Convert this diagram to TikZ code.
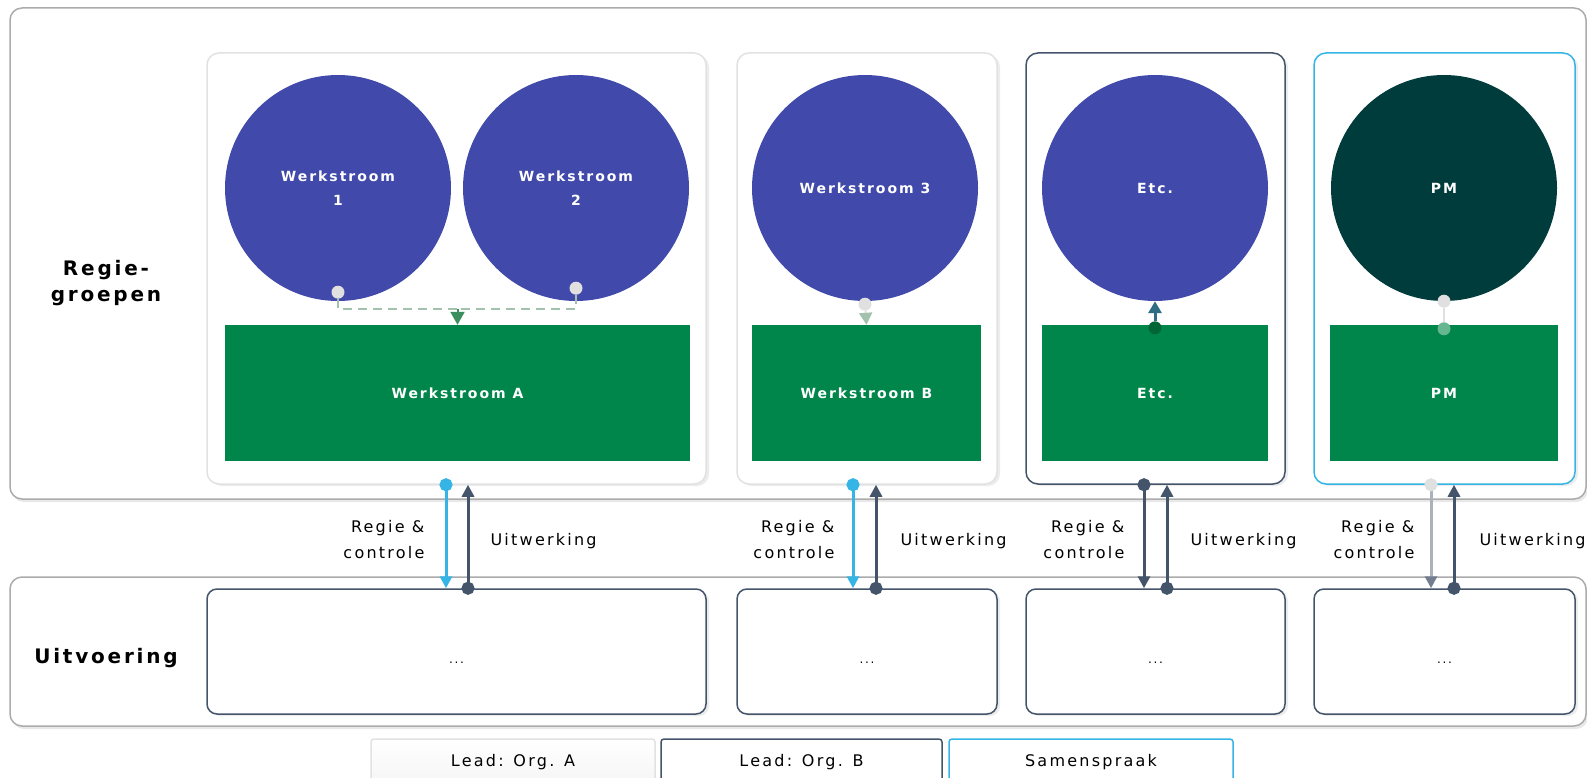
\documentclass[tikz,border=0pt]{standalone}
\usepackage{fontspec}
\setmainfont{DejaVu Sans}
\newfontfamily\tracked[LetterSpace=14]{DejaVu Sans}
\usetikzlibrary{arrows.meta,shadows}
\definecolor{wsblue}{HTML}{414AAA}
\definecolor{pmgreen}{HTML}{003C3C}
\definecolor{wsgreen}{HTML}{00864A}
\definecolor{navy}{HTML}{44546A}
\definecolor{skyblue}{HTML}{35B5E5}
\definecolor{dotgray}{HTML}{E0E0E0}
\definecolor{framegray}{HTML}{ABABAB}
\definecolor{lightframe}{HTML}{E2E2E2}
\definecolor{linkgreen}{HTML}{A3C2AE}
\definecolor{tipgreen}{HTML}{3D8E5E}
\definecolor{teal}{HTML}{2E6E84}

\begin{document}
\begin{tikzpicture}[x=1pt, y=-1pt,
    band/.style={rectangle, rounded corners=12pt, draw=framegray, line width=1.5pt, fill=white, drop shadow={shadow xshift=2pt, shadow yshift=-3pt, opacity=0.18}},
    column/.style={rectangle, rounded corners=12pt, line width=1.5pt, fill=white, minimum height=431pt, drop shadow={shadow xshift=3pt, shadow yshift=-2pt, opacity=0.15}},
    output/.style={rectangle, rounded corners=10pt, draw=navy, line width=1.5pt, fill=white, minimum height=125pt, drop shadow={shadow xshift=3pt, shadow yshift=-2pt, opacity=0.15}},
    dots/.style={yshift=-11pt, font=\tracked\fontsize{12}{14}\selectfont},
    stream/.style={circle, minimum size=226pt, inner sep=0pt, fill=wsblue, text=white, align=center, font=\tracked\bfseries\fontsize{14}{24}\selectfont},
    result/.style={rectangle, minimum height=136pt, fill=wsgreen, text=white, font=\tracked\bfseries\fontsize{14}{24}\selectfont},
    heading/.style={align=center, font=\tracked\bfseries\fontsize{20}{26}\selectfont},
    lbl/.style={align=right, font=\tracked\fontsize{16}{26}\selectfont},
    legend/.style={rectangle, rounded corners=3pt, line width=1.5pt, minimum height=46pt, fill=white, font=\tracked\fontsize{16}{20}\selectfont},
    dot/.style={circle, fill=dotgray, minimum size=13pt, inner sep=0pt},
    regie/.style={line width=3pt, draw=skyblue, arrows={Circle[length=13pt]-Triangle[length=12pt,width=12pt]}, shorten <=-6.5pt},
    uitw/.style={line width=3pt, draw=navy, arrows={Triangle[length=12pt,width=12pt]-Circle[length=13pt]}, shorten >=-6.5pt},
    wslink/.style={line width=2pt, draw=linkgreen, dash pattern=on 9pt off 6pt}
]
    \useasboundingbox (0,0) rectangle (1587,778);
    \clip (0,0) rectangle (1587,778);

    % bands
    \node[band, minimum width=1576pt, minimum height=491pt] (regieband) at (798,253.5) {};
    \node[band, minimum width=1576pt, minimum height=149pt] (uitvband) at (798,651.5) {};
    \node[heading] (regiehead) at (106,283) {Regie-\\groepen};
    \node[heading] (uitvhead) at (106,658) {Uitvoering};

    % regiegroepen
    \node[column, draw=lightframe, minimum width=499pt] (colA) at (456.5,268.5) {};
    \node[column, draw=lightframe, minimum width=260pt] (colB) at (867,268.5) {};
    \node[column, draw=navy, minimum width=259pt] (colC) at (1155.5,268.5) {};
    \node[column, draw=skyblue, minimum width=261pt] (colD) at (1444.5,268.5) {};

    \node[stream] (w1) at (338,188) {Werkstroom\\1};
    \node[stream] (w2) at (576,188) {Werkstroom\\2};
    \node[stream] (w3) at (865,188) {Werkstroom 3};
    \node[stream] (etc) at (1155,188) {Etc.};
    \node[stream, fill=pmgreen] (pm) at (1444,188) {PM};

    \node[result, minimum width=465pt] (rectA) at (457.5,393) {Werkstroom A};
    \node[result, minimum width=229pt] (rectB) at (866.5,393) {Werkstroom B};
    \node[result, minimum width=226pt] (rectC) at (1155,393) {Etc.};
    \node[result, minimum width=228pt] (rectD) at (1444,393) {PM};

    % links inside the columns
    \node[dot] (dW1) at ([yshift=9pt]w1.south) {};
    \node[dot] (dW2) at ([yshift=13pt]w2.south) {};
    \coordinate (mergeA) at ([yshift=16pt]rectA.north);
    \draw[wslink] (dW1) |- (mergeA);
    \draw[wslink] (dW2) |- (mergeA);
    \draw[line width=2pt, tipgreen, -{Triangle[length=13pt,width=14pt]}] (mergeA) -- (rectA.north);

    \node[dot] (dW3) at ([yshift=-3pt]w3.south) {};
    \draw[line width=2pt, dotgray, -{Triangle[length=12pt,width=13pt,color=linkgreen]}] (dW3) -- (rectB.north);

    \node[dot, fill=wsgreen!75!black] (dRC) at ([yshift=-3pt]rectC.north) {};
    \draw[line width=3pt, teal, -{Triangle[length=12pt,width=13pt]}] (dRC) -- (etc.south);

    \node[dot] (dPM) at (pm.south) {};
    \node[dot, fill=wsgreen!60!white] (dRD) at ([yshift=-4pt]rectD.north) {};
    \draw[line width=2pt, dotgray] (dPM) -- (dRD);

    % uitvoering
    \node[output, minimum width=499pt, label={[dots]center:...}] (botA) at (456.5,651.5) {};
    \node[output, minimum width=260pt, label={[dots]center:...}] (botB) at (867,651.5) {};
    \node[output, minimum width=259pt, label={[dots]center:...}] (botC) at (1155.5,651.5) {};
    \node[output, minimum width=261pt, label={[dots]center:...}] (botD) at (1444.5,651.5) {};

    % regie en uitwerking
    \draw[regie] ([xshift=-10.5pt]colA.south) -- ([xshift=-10.5pt]botA.north);
    \draw[uitw] ([xshift=11.5pt]colA.south) -- ([xshift=11.5pt]botA.north);
    \draw[regie] ([xshift=-14pt]colB.south) -- ([xshift=-14pt]botB.north);
    \draw[uitw] ([xshift=9pt]colB.south) -- ([xshift=9pt]botB.north);
    \draw[regie, draw=navy] ([xshift=-11.5pt]colC.south) -- ([xshift=-11.5pt]botC.north);
    \draw[uitw] ([xshift=11.5pt]colC.south) -- ([xshift=11.5pt]botC.north);
    \draw[regie, draw=navy!45, arrows={Circle[length=13pt,color=dotgray]-Triangle[length=12pt,width=12pt,color=navy!75]}] ([xshift=-13.5pt]colD.south) -- ([xshift=-13.5pt]botD.north);
    \draw[uitw] ([xshift=9.5pt]colD.south) -- ([xshift=9.5pt]botD.north);

    \node[lbl, anchor=east] (rgA) at (428,540) {Regie \&\\controle};
    \node[lbl, anchor=west] (uwA) at (487,541) {Uitwerking};
    \node[lbl, anchor=east] (rgB) at (838,540) {Regie \&\\controle};
    \node[lbl, anchor=west] (uwB) at (897,541) {Uitwerking};
    \node[lbl, anchor=east] (rgC) at (1128,540) {Regie \&\\controle};
    \node[lbl, anchor=west] (uwC) at (1187,541) {Uitwerking};
    \node[lbl, anchor=east] (rgD) at (1418,540) {Regie \&\\controle};
    \node[lbl, anchor=west] (uwD) at (1476,541) {Uitwerking};

    % legenda
    \node[legend, draw=lightframe, top color=white, bottom color=gray!8, minimum width=284pt] (legA) at (513,762) {Lead: Org. A};
    \node[legend, draw=navy, minimum width=281pt] (legB) at (801.5,762) {Lead: Org. B};
    \node[legend, draw=skyblue, minimum width=284pt] (legC) at (1091,762) {Samenspraak};
\end{tikzpicture}
\end{document}
